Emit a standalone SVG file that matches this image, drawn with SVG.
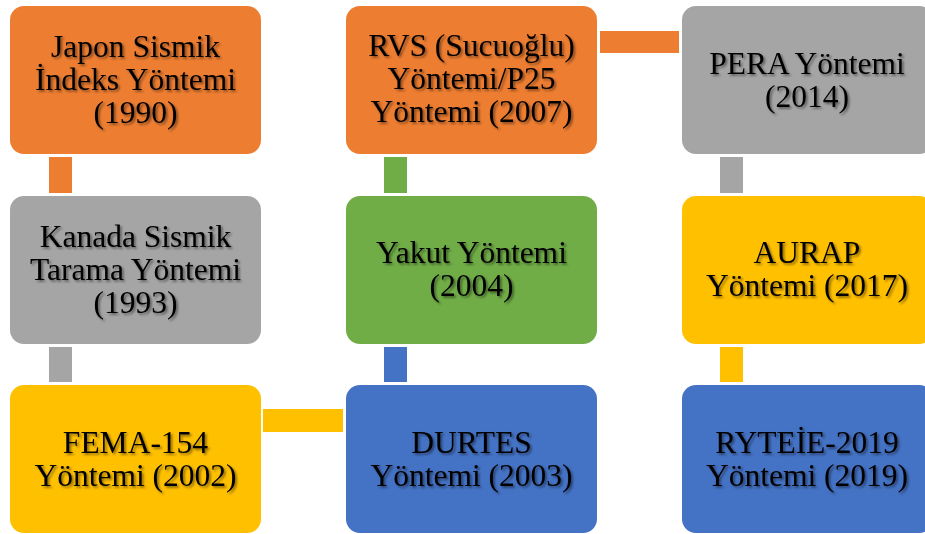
<svg xmlns="http://www.w3.org/2000/svg" width="925" height="534" viewBox="0 0 925 534">
  <defs>
    <filter id="txtShadow" x="-10%" y="-20%" width="130%" height="150%">
      <feDropShadow dx="1.8" dy="1.8" stdDeviation="1.3" flood-color="#000" flood-opacity="0.45"/>
    </filter>
  </defs>
  <style>
    .box { stroke: none; }
    .orange { fill: #ED7D31; }
    .gray { fill: #A5A5A5; }
    .yellow { fill: #FFC000; }
    .blue { fill: #4472C4; }
    .green { fill: #70AD47; }
    .lbl { font-family: "Liberation Serif", "Times New Roman", serif; font-size: 31.5px; fill: #000; text-anchor: middle; filter: url(#txtShadow); }
  </style>
  <rect width="925" height="534" fill="#fff"/>

  <!-- connectors between method boxes -->
  <g id="connectors">
    <rect class="orange" x="49" y="157" width="23" height="36"/>
    <rect class="gray" x="49" y="347" width="23" height="35"/>
    <rect class="yellow" x="263" y="409" width="80" height="23"/>
    <rect class="blue" x="384" y="347" width="23" height="35"/>
    <rect class="green" x="384" y="157" width="23" height="36"/>
    <rect class="orange" x="600" y="31" width="79" height="22"/>
    <rect class="gray" x="720" y="157" width="23" height="36"/>
    <rect class="yellow" x="720" y="347" width="23" height="35"/>
  </g>

  <g id="japon">
    <rect class="box orange" x="10" y="6" width="251" height="148" rx="14"/>
    <text class="lbl" x="135.5" y="57">Japon Sismik</text>
    <text class="lbl" x="135.5" y="90">İndeks Yöntemi</text>
    <text class="lbl" x="135.5" y="123">(1990)</text>
  </g>

  <g id="kanada">
    <rect class="box gray" x="10" y="196" width="251" height="148" rx="14"/>
    <text class="lbl" x="135.5" y="247">Kanada Sismik</text>
    <text class="lbl" x="135.5" y="280">Tarama Yöntemi</text>
    <text class="lbl" x="135.5" y="313">(1993)</text>
  </g>

  <g id="fema">
    <rect class="box yellow" x="10" y="385" width="251" height="148" rx="14"/>
    <text class="lbl" x="135.5" y="452.5">FEMA-154</text>
    <text class="lbl" x="135.5" y="485.5">Yöntemi (2002)</text>
  </g>

  <g id="durtes">
    <rect class="box blue" x="346" y="385" width="251" height="148" rx="14"/>
    <text class="lbl" x="471.5" y="452.5">DURTES</text>
    <text class="lbl" x="471.5" y="485.5">Yöntemi (2003)</text>
  </g>

  <g id="yakut">
    <rect class="box green" x="346" y="196" width="251" height="148" rx="14"/>
    <text class="lbl" x="471.5" y="263">Yakut Yöntemi</text>
    <text class="lbl" x="471.5" y="296">(2004)</text>
  </g>

  <g id="rvs">
    <rect class="box orange" x="346" y="6" width="251" height="148" rx="14"/>
    <text class="lbl" x="471.5" y="56">RVS (Sucuoğlu)</text>
    <text class="lbl" x="471.5" y="89">Yöntemi/P25</text>
    <text class="lbl" x="471.5" y="122">Yöntemi (2007)</text>
  </g>

  <g id="pera">
    <rect class="box gray" x="682" y="6" width="251" height="148" rx="14"/>
    <text class="lbl" x="807" y="73.5">PERA Yöntemi</text>
    <text class="lbl" x="807" y="106.5">(2014)</text>
  </g>

  <g id="aurap">
    <rect class="box yellow" x="682" y="196" width="251" height="148" rx="14"/>
    <text class="lbl" x="807" y="263">AURAP</text>
    <text class="lbl" x="807" y="296">Yöntemi (2017)</text>
  </g>

  <g id="ryteie">
    <rect class="box blue" x="682" y="385" width="251" height="148" rx="14"/>
    <text class="lbl" x="807" y="452.5">RYTEİE-2019</text>
    <text class="lbl" x="807" y="485.5">Yöntemi (2019)</text>
  </g>
</svg>
